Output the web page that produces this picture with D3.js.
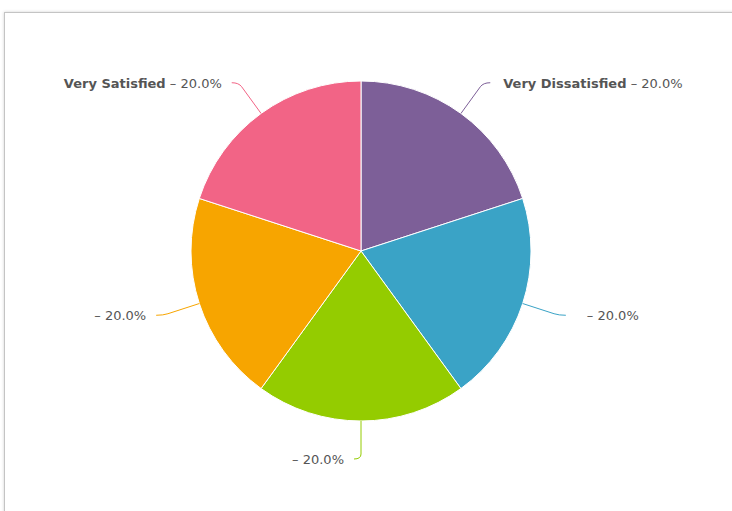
<!DOCTYPE html>
<html>
<head>
<meta charset="utf-8">
<script src="https://cdn.jsdelivr.net/npm/d3@7"></script>
<style>
  html, body { margin: 0; padding: 0; background: #fff; }
  #frame {
    position: absolute; left: 4px; top: 12px; width: 760px; height: 520px;
    border: 1px solid #c4c4c4;
    box-shadow: 0 0 3px rgba(0,0,0,0.18);
    background: #fff;
  }
  svg { position: absolute; left: 0; top: 0; }
</style>
</head>
<body>
<div id="frame"></div>
<svg id="chart" width="732" height="511"></svg>
<script>
const categories = ["Very Dissatisfied", "", "", "", "Very Satisfied"];
const values = [20, 20, 20, 20, 20];
const colors = ["#7d5f98", "#3aa3c6", "#94cc00", "#f7a500", "#f26486"];

const width = 732, height = 511;
const cx = 361, cy = 251, radius = 170;

const svg = d3.select("#chart");
const g = svg.append("g").attr("transform", `translate(${cx},${cy})`);

const data = categories.map((name, i) => ({ name: name, value: values[i], color: colors[i] }));
const total = d3.sum(values);

const pie = d3.pie().sort(null).value(d => d.value);
const arc = d3.arc().innerRadius(0).outerRadius(radius);
const arcs = pie(data);

g.selectAll("path.slice")
    .data(arcs)
    .enter().append("path")
    .attr("class", "slice")
    .attr("d", arc)
    .attr("fill", d => d.data.color)
    .attr("stroke", "#fff")
    .attr("stroke-width", 1);

// label geometry
const breakR = radius + 38;
const labels = arcs.map(d => {
    const a = (d.startAngle + d.endAngle) / 2;
    const s = Math.sin(a), c = -Math.cos(a);
    const right = s > 1e-6;
    const edge = [radius * s, radius * c];
    const bp = [breakR * s, breakR * c];
    const end = [bp[0] + (right ? 7 : -7), bp[1]];
    return { d, right, edge, bp, end };
});

g.selectAll("path.connector")
    .data(labels)
    .enter().append("path")
    .attr("class", "connector")
    .attr("fill", "none")
    .attr("stroke", l => l.d.data.color)
    .attr("stroke-width", 1)
    .attr("d", l => {
        const dx = l.bp[0] - l.edge[0], dy = l.bp[1] - l.edge[1];
        const len = Math.hypot(dx, dy);
        const pre = [l.bp[0] - dx / len * 5, l.bp[1] - dy / len * 5];
        return `M${l.edge[0]},${l.edge[1]}L${pre[0]},${pre[1]}Q${l.bp[0]},${l.bp[1]} ${l.end[0]},${l.end[1]}`;
    });

const text = g.selectAll("text.label")
    .data(labels)
    .enter().append("text")
    .attr("class", "label")
    .attr("x", l => l.right ? l.end[0] + (l.d.data.name ? 13 : 21) : l.end[0] - 10)
    .attr("y", l => l.end[1] + 5)
    .attr("text-anchor", l => l.right ? "start" : "end")
    .style("font-family", "'DejaVu Sans', sans-serif")
    .style("font-size", "13px")
    .style("fill", "#555");

text.append("tspan")
    .style("font-weight", "bold")
    .text(l => l.d.data.name);

text.append("tspan")
    .attr("xml:space", "preserve")
    .text(l => (l.d.data.name ? " " : "") + "\u2013 " + (l.d.value / total * 100).toFixed(1) + "%");
</script>
</body>
</html>
